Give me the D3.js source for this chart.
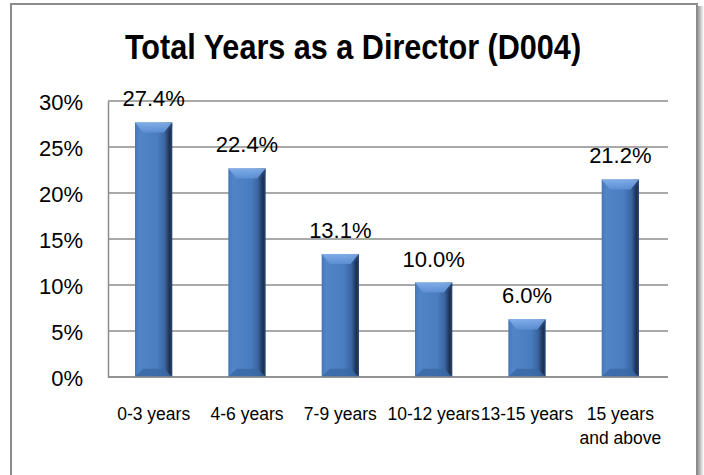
<!DOCTYPE html>
<html>
<head>
<meta charset="utf-8">
<script src="https://cdn.jsdelivr.net/npm/d3@7"></script>
<style>
  body { margin: 0; background: #fff; }
  text { font-family: "Liberation Sans", Arial, sans-serif; fill: #000; }
</style>
</head>
<body>
<div id="chart"></div>
<script>
// data
const categories = ["0-3 years", "4-6 years", "7-9 years", "10-12 years", "13-15 years", "15 years|and above"];
const values = [27.4, 22.4, 13.1, 10.0, 6.0, 21.2];
const yTicks = [0, 5, 10, 15, 20, 25, 30];
const title = "Total Years as a Director (D004)";

const W = 704, H = 475;
const margin = {top: 101, right: 36, bottom: 98, left: 108};
const width = W - margin.left - margin.right,
      height = H - margin.top - margin.bottom;

const svg = d3.select("#chart").append("svg")
  .attr("width", W).attr("height", H);

// gradients for the bevelled bars
const defs = svg.append("defs");
const g1 = defs.append("linearGradient").attr("id", "barGrad")
  .attr("x1", "0").attr("x2", "1").attr("y1", "0").attr("y2", "0");
g1.append("stop").attr("offset", "0").attr("stop-color", "#4676b8");
g1.append("stop").attr("offset", "0.12").attr("stop-color", "#5185c8");
g1.append("stop").attr("offset", "0.6").attr("stop-color", "#4a7dc0");
g1.append("stop").attr("offset", "0.8").attr("stop-color", "#3a64a0");
g1.append("stop").attr("offset", "0.93").attr("stop-color", "#1c304e");
g1.append("stop").attr("offset", "1").attr("stop-color", "#2c4a78");
const g2 = defs.append("linearGradient").attr("id", "topGrad")
  .attr("x1", "0").attr("x2", "0").attr("y1", "0").attr("y2", "1");
g2.append("stop").attr("offset", "0").attr("stop-color", "#86b2ec");
g2.append("stop").attr("offset", "1").attr("stop-color", "#5d8fd4");
const sh = defs.append("linearGradient").attr("id", "shadowGrad")
  .attr("x1", "0").attr("x2", "1");
sh.append("stop").attr("offset", "0").attr("stop-color", "#8a8a8a");
sh.append("stop").attr("offset", "1").attr("stop-color", "#ffffff");

// outer frame with a soft shadow on the right
svg.append("rect").attr("x", 697).attr("y", 6).attr("width", 7).attr("height", H)
  .attr("fill", "url(#shadowGrad)");
svg.append("rect").attr("x", 11).attr("y", 4).attr("width", 686).attr("height", H + 10)
  .attr("fill", "#fff").attr("stroke", "#8c8c8c").attr("stroke-width", 2);

// title, squeezed to look like a narrow bold face
svg.append("text")
  .attr("transform", "translate(353,59) scale(0.85,1)")
  .attr("text-anchor", "middle")
  .style("font-size", "36px").style("font-weight", "bold")
  .text(title);

const g = svg.append("g").attr("transform", `translate(${margin.left},${margin.top})`);

const x = d3.scaleBand().domain(categories).range([0, width]).paddingInner(0.6).paddingOuter(0.3);
const y = d3.scaleLinear().domain([0, 30]).range([height, 0]);

// gridlines
g.selectAll(".grid").data(yTicks).join("line")
  .attr("x1", 0).attr("x2", width)
  .attr("y1", d => y(d)).attr("y2", d => y(d))
  .attr("stroke", "#8c8c8c").attr("stroke-width", 1.5);

// y axis
const yAxis = g.append("g").call(d3.axisLeft(y).tickValues(yTicks).tickSize(0).tickPadding(25).tickFormat(d => d + "%"));
yAxis.select(".domain").attr("stroke", "#8c8c8c").attr("stroke-width", 1.5);
yAxis.selectAll("text").style("font-size", "22px").attr("fill", "#000").attr("dy", "0.4em");

// bars
const bars = g.selectAll(".bar").data(values).join("g").attr("class", "bar")
  .attr("transform", (d, i) => `translate(${x(categories[i]) - 1},${y(d) - 2.5})`);
const bw = x.bandwidth();
bars.append("rect")
  .attr("width", bw).attr("height", d => height - y(d) + 2.5)
  .attr("fill", "url(#barGrad)");
// top bevel
bars.append("path")
  .attr("d", `M0,0 L${bw},0 L${bw * 0.78},${bw * 0.27} L${bw * 0.22},${bw * 0.27} Z`)
  .attr("fill", "url(#topGrad)").attr("opacity", 0.9);
bars.append("path")
  .attr("d", `M${bw},0 L${bw},${bw * 0.1} L${bw * 0.85},${bw * 0.27} L${bw * 0.78},${bw * 0.27} Z`)
  .attr("fill", "#2c4f80").attr("opacity", 0.6);
// bottom bevel
bars.append("path")
  .attr("d", d => {
    const h = height - y(d) + 2.5;
    return `M0,${h} L${bw},${h} L${bw * 0.78},${h - bw * 0.22} L${bw * 0.22},${h - bw * 0.22} Z`;
  })
  .attr("fill", "#3a68a6").attr("opacity", 0.85);

// value labels
g.selectAll(".val").data(values).join("text")
  .attr("x", (d, i) => x(categories[i]) + bw / 2 - 1)
  .attr("y", d => y(d) - 18.5)
  .attr("text-anchor", "middle")
  .style("font-size", "22px")
  .text(d => d.toFixed(1) + "%");

// x axis bottom line + category labels
g.append("line").attr("x1", 0).attr("x2", width).attr("y1", height).attr("y2", height)
  .attr("stroke", "#8c8c8c").attr("stroke-width", 1.5);
const labels = g.selectAll(".cat").data(categories).join("text")
  .attr("x", d => x(d) + bw / 2 - 1)
  .attr("y", height + 43)
  .attr("text-anchor", "middle")
  .style("font-size", "17.5px");
labels.each(function(d) {
  const parts = d.split("|");
  const t = d3.select(this);
  parts.forEach((p, k) => t.append("tspan").attr("x", t.attr("x")).attr("dy", k ? 24 : 0).text(p));
});
</script>
</body>
</html>
